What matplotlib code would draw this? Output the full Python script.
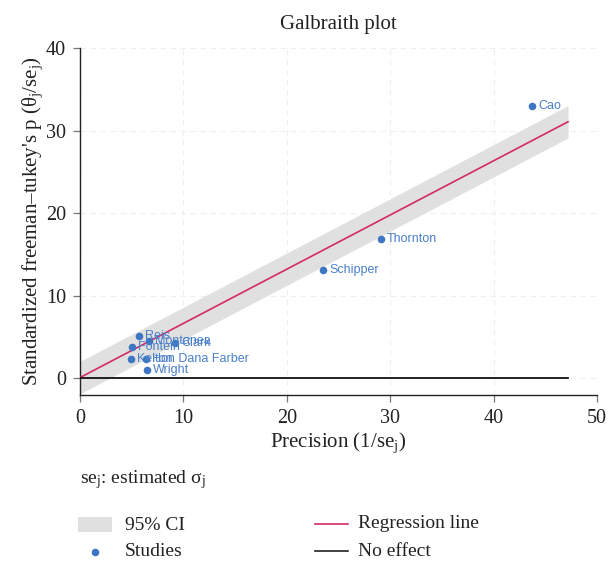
import numpy as np
import matplotlib
matplotlib.use("Agg")
from matplotlib import pyplot as plt
from matplotlib.patches import Rectangle

plt.rcParams["font.family"] = ["Liberation Serif", "DejaVu Serif"]
plt.rcParams["mathtext.fontset"] = "custom"
plt.rcParams["mathtext.rm"] = "Liberation Serif"
plt.rcParams["mathtext.it"] = "Liberation Serif:italic"

# study data
studies = ["Cao", "Thornton", "Schipper", "Reis", "Montanea", "Clark",
           "Fontein", "Kelton", "Hon Dana Farber", "Wright"]
precision = [43.7, 29.1, 23.5, 5.71, 6.67, 9.19, 5.03, 4.93, 6.38, 6.48]
std_effect = [33.0, 16.8, 13.1, 5.15, 4.48, 4.24, 3.70, 2.36, 2.36, 0.97]

# regression line and band
reg_intercept = 0.05
reg_slope = 0.657
ci_half = 1.96
line_end = 47.2

text_col = "#222222"
dot_col = "#3d76c2"
lab_col = "#4a80c8"
reg_col = "#d42a66"
band_col = "#e0e0e0"

fig = plt.figure(figsize=(6.08, 5.63), dpi=100)
W, H = 608, 563
ax = fig.add_axes([80 / W, 1 - 395 / H, 517 / W, 347 / H])

xs = np.array([0, line_end])
ys = reg_intercept + reg_slope * xs
ax.fill_between(xs, ys - ci_half, ys + ci_half, color=band_col, lw=0, zorder=1)
ax.plot(xs, ys, color=reg_col, lw=1.2, zorder=3)
ax.plot(xs, [0, 0], color="#111111", lw=1.3, zorder=3)

ax.scatter(precision, std_effect, s=30, color=dot_col, zorder=4, linewidths=0)
for name, x, y in zip(studies, precision, std_effect):
    ax.annotate(name, (x, y), xytext=(4.5, 0), textcoords="offset points",
                va="center", ha="left", fontsize=9, color=lab_col,
                family="Liberation Sans", zorder=5)

ax.set_xlim(0, 50)
ax.set_ylim(-2.06, 40)
ax.set_xticks([0, 10, 20, 30, 40, 50])
ax.set_yticks([0, 10, 20, 30, 40])
ax.grid(True, color="#efefef", ls=(0, (5, 4)), lw=0.8, zorder=0)
ax.set_axisbelow(True)
for s in ["top", "right"]:
    ax.spines[s].set_visible(False)
for s in ["left", "bottom"]:
    ax.spines[s].set_color("#222222")
    ax.spines[s].set_linewidth(1.0)
ax.tick_params(direction="out", length=5, width=0.9, color="#777777",
               labelsize=14.5, labelcolor=text_col, pad=5)

ax.set_title("Galbraith plot", fontsize=15, color=text_col, pad=14)
ax.set_xlabel(r"Precision (1/se$_\mathrm{j}$)", fontsize=15, color=text_col, labelpad=2)
ax.set_ylabel("Standardized freeman\u2013tukey's p (\u03b8$_\\mathrm{j}$/se$_\\mathrm{j}$)",
              fontsize=15, color=text_col, labelpad=1)

fig.text(80 / W, 1 - 480 / H, "se$_\\mathrm{j}$: estimated \u03c3$_\\mathrm{j}$",
         fontsize=14, color=text_col, va="center", ha="left")

# legend drawn in pixel space below the plot
lax = fig.add_axes([0, 0, 1, 1])
lax.set_xlim(0, W)
lax.set_ylim(H, 0)
lax.axis("off")
lax.add_patch(Rectangle((78, 517), 34, 15, color=band_col, lw=0))
lax.text(125, 525, "95% CI", fontsize=14, color=text_col, va="center")
lax.scatter([95], [552], s=30, color=dot_col, linewidths=0)
lax.text(125, 552, "Studies", fontsize=14, color=text_col, va="center")
lax.plot([315, 348], [524, 524], color=reg_col, lw=1.2)
lax.text(358, 524, "Regression line", fontsize=14, color=text_col, va="center")
lax.plot([315, 348], [551, 551], color="#222222", lw=1.2)
lax.text(358, 551, "No effect", fontsize=14, color=text_col, va="center")

fig.savefig("out.png", dpi=100)
